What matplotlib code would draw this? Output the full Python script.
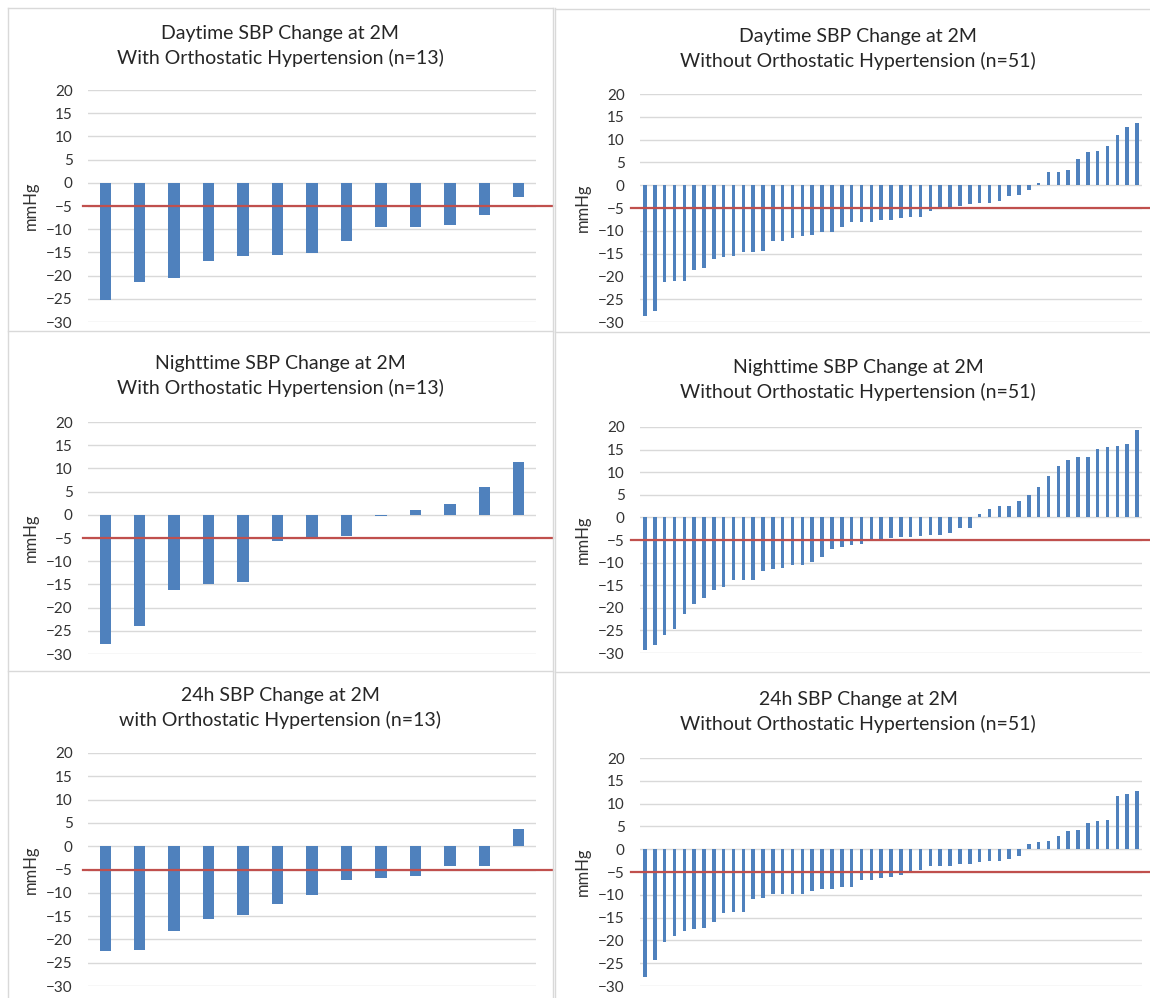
import numpy as np
import matplotlib
matplotlib.use("Agg")
import matplotlib.pyplot as plt
from matplotlib.lines import Line2D

plt.rcParams['font.family'] = ['Lato', 'DejaVu Sans']

# SBP change at 2 months (mmHg), sorted per panel
day_with = [-25.2, -21.3, -20.6, -16.8, -15.8, -15.5, -15.1, -12.5, -9.6, -9.6, -9.0, -7.0, -3.1]
night_with = [-27.8, -24.0, -16.1, -15.0, -14.5, -5.7, -5.0, -4.5, -0.2, 1.0, 2.4, 6.0, 11.4]
h24_with = [-22.5, -22.2, -18.3, -15.7, -14.8, -12.5, -10.5, -7.2, -6.9, -6.3, -4.3, -4.3, 3.6]

day_without = [-28.7, -27.6, -21.3, -21.0, -21.0, -18.6, -18.2, -16.1, -15.8, -15.5,
               -14.7, -14.7, -14.4, -12.3, -12.3, -11.6, -11.2, -10.9, -10.2, -10.2,
               -9.1, -8.1, -8.1, -8.0, -7.7, -7.7, -7.3, -7.0, -7.0, -5.6,
               -5.2, -4.7, -4.5, -4.2, -3.8, -3.8, -3.4, -2.4, -2.1, -1.0,
               0.5, 3.0, 3.0, 3.4, 5.8, 7.3, 7.6, 8.7, 11.1, 12.8, 13.6]
night_without = [-29.4, -28.3, -26.0, -24.6, -21.3, -19.2, -17.8, -16.1, -15.3, -13.9,
                 -13.9, -13.9, -11.9, -11.5, -11.1, -10.5, -10.5, -9.8, -8.7, -6.9,
                 -6.6, -6.2, -5.9, -5.2, -5.2, -4.6, -4.4, -4.4, -4.1, -3.8,
                 -3.8, -3.4, -2.4, -2.4, 0.7, 1.8, 2.5, 2.5, 3.6, 4.9,
                 6.7, 9.1, 11.3, 12.7, 13.4, 13.4, 15.2, 15.5, 15.9, 16.2, 19.4]
h24_without = [-28.1, -24.3, -20.4, -19.0, -18.0, -17.6, -17.3, -15.9, -14.1, -13.8,
               -13.8, -11.0, -10.6, -9.9, -9.9, -9.9, -9.9, -9.2, -8.8, -8.8,
               -8.2, -8.2, -6.8, -6.8, -6.4, -6.1, -5.7, -5.0, -4.5, -3.7,
               -3.7, -3.7, -3.3, -3.3, -2.9, -2.6, -2.6, -2.2, -1.5, 1.2,
               1.5, 1.9, 2.9, 4.0, 4.3, 5.7, 6.1, 6.4, 11.6, 12.0, 12.7]

titles = [
    "Daytime SBP Change at 2M\nWith Orthostatic Hypertension (n=13)",
    "Daytime SBP Change at 2M\nWithout Orthostatic Hypertension (n=51)",
    "Nighttime SBP Change at 2M\nWith Orthostatic Hypertension (n=13)",
    "Nighttime SBP Change at 2M\nWithout Orthostatic Hypertension (n=51)",
    "24h SBP Change at 2M\nwith Orthostatic Hypertension (n=13)",
    "24h SBP Change at 2M\nWithout Orthostatic Hypertension (n=51)",
]
series = [day_with, day_without, night_with, night_without, h24_with, h24_without]
threshold = -5
yticks = list(range(-30, 25, 5))

BLUE = "#4F81BD"
RED = "#C0504D"
GRID = "#D9D9D9"

W, H = 1150, 998
fig = plt.figure(figsize=(W / 100, H / 100), dpi=100)

# plot areas in pixels: (left, right, top, bottom), title centre x, title y
boxes = [
    (88, 536, 90, 322, 280, 25),
    (640, 1142, 94, 322, 858, 28),
    (88, 536, 422, 654, 280, 355),
    (640, 1142, 427, 653, 858, 359),
    (88, 536, 753, 986, 280, 687),
    (640, 1142, 758, 986, 858, 691),
]

for i, (vals, title, box) in enumerate(zip(series, titles, boxes)):
    l, r, t, b, tx, ty = box
    ax = fig.add_axes([l / W, 1 - b / H, (r - l) / W, (b - t) / H])
    x = np.arange(len(vals))
    ax.bar(x, vals, width=0.33 if len(vals) < 20 else 0.36, color=BLUE, zorder=2)
    ax.set_xlim(-0.5, len(vals) - 0.5)
    ax.set_ylim(-30, 20)
    ax.set_yticks(yticks)
    ax.set_xticks([])
    ax.grid(axis='y', color=GRID, linewidth=1.0, zorder=0)
    for s in ax.spines.values():
        s.set_visible(False)
    ax.tick_params(axis='y', length=0, pad=11, labelsize=11, labelcolor="#333333")
    ax.set_ylabel("mmHg", fontsize=12, color="#333333", labelpad=5)
    # red -5 reference line, running past the plot area like the original
    if i % 2 == 0:
        xmin, xmax = (83 - l) / (r - l), (553 - l) / (r - l)
    else:
        xmin, xmax = (631 - l) / (r - l), (1150 - l) / (r - l)
    ax.axhline(threshold, xmin=xmin, xmax=xmax, color=RED, linewidth=1.6,
               clip_on=False, zorder=3)
    fig.text(tx / W, 1 - ty / H, title, ha='center', va='top', fontsize=14,
             color="#262626", linespacing=1.45)

# panel borders
def hline(y, x0, x1):
    fig.add_artist(Line2D([x0 / W, x1 / W], [1 - y / H, 1 - y / H], color=GRID, linewidth=1))

def vline(x, y0, y1):
    fig.add_artist(Line2D([x / W, x / W], [1 - y0 / H, 1 - y1 / H], color=GRID, linewidth=1))

for y in [8, 331, 671]:
    hline(y, 8, 553)
    hline(y + 1, 555, 1150)
vline(8, 8, 998)
vline(553, 8, 998)
vline(555, 8, 998)

fig.savefig("out.png", dpi=100)
